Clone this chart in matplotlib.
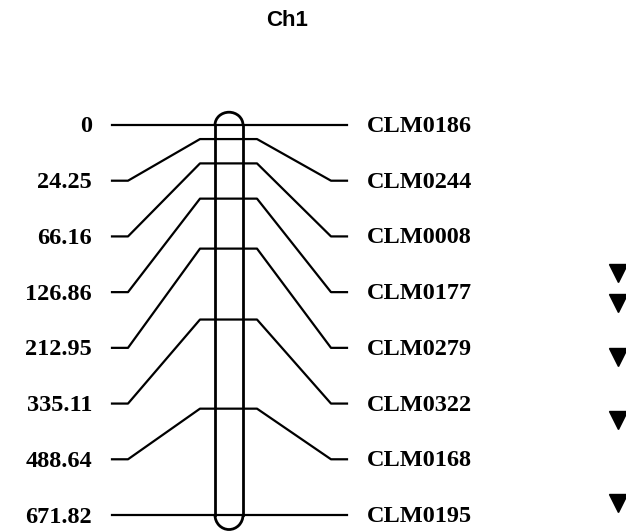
import matplotlib.pyplot as plt
import numpy as np
from matplotlib.patches import Arc

# linkage map of chromosome 1 (positions in cM)
chrom = "Ch1"
positions = [0, 24.25, 66.16, 126.86, 212.95, 335.11, 488.64, 671.82]
markers = ["CLM0186", "CLM0244", "CLM0008", "CLM0177",
           "CLM0279", "CLM0322", "CLM0168", "CLM0195"]
qtl_pos = [255, 306.6, 399.7, 508, 651]

fig = plt.figure(figsize=(6.26, 5.32), dpi=100)
ax = fig.add_axes([0, 0, 1, 1])
# x in layout pixels, y in cM
ax.set_xlim(0, 626)
ax.set_ylim(701.1, -215.3)
ax.axis("off")

lw = 1.6
cx, cw = 229, 28
ymax = positions[-1]
px = 1 / 0.5805  # one pixel in cM

# chromosome bar with rounded ends (y axis is inverted)
ax.plot([cx - cw / 2] * 2, [0, ymax], color="black", lw=lw + 0.4)
ax.plot([cx + cw / 2] * 2, [0, ymax], color="black", lw=lw + 0.4)
ax.add_patch(Arc((cx, 0), cw, 44, theta1=180, theta2=360, color="black", lw=lw + 0.4))
ax.add_patch(Arc((cx, ymax), cw, 50, theta1=0, theta2=180, color="black", lw=lw + 0.4))

# labels spread evenly, joined to their real positions
rows = np.linspace(0, ymax, len(positions))
for pos, row, name in zip(positions, rows, markers):
    xs = [112, 128, 200, 257, 331, 347]
    ys = [row, row, pos, pos, row, row]
    ax.plot(xs, ys, color="black", lw=lw)
    ax.text(92, row + 2 * px, f"{pos:g}", ha="right", va="center",
            fontsize=17.5, fontweight="bold", family="Liberation Serif")
    ax.text(367, row + 1.5 * px, name, ha="left", va="center",
            fontsize=17.5, fontweight="bold", family="Liberation Serif")

ax.plot([618] * len(qtl_pos), qtl_pos, "v", color="black", ms=13, clip_on=False)

ax.text(287, -215.3 + 20 * px, chrom, ha="center", va="center",
        fontsize=16, fontweight="bold", family="Liberation Sans")

fig.savefig("out.png", dpi=100)
